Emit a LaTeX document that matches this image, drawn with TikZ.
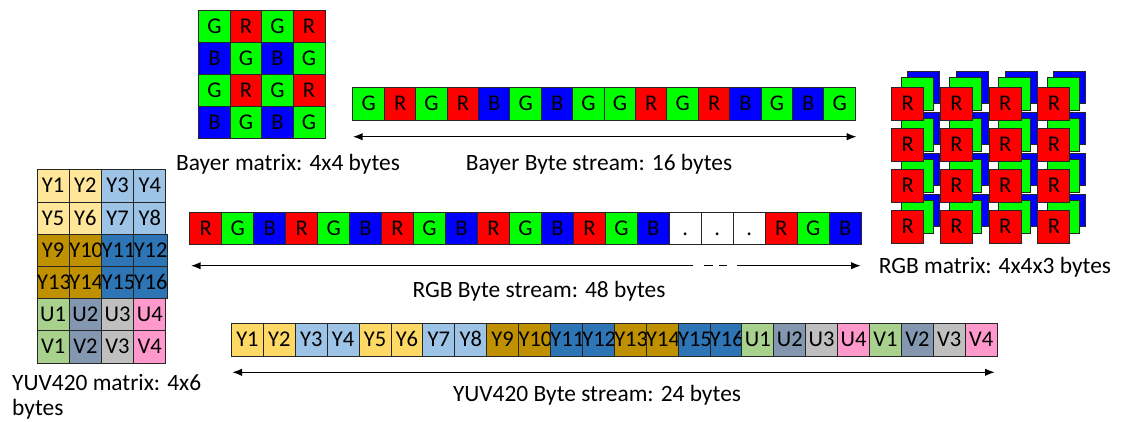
\documentclass[tikz,border=0pt]{standalone}
\usepackage{fontspec}
\setmainfont{Carlito}
\usetikzlibrary{arrows.meta}
\definecolor{bayerR}{HTML}{FF0000}
\definecolor{bayerG}{HTML}{00FF00}
\definecolor{bayerB}{HTML}{0000FF}
\definecolor{bayerW}{HTML}{FFFFFF}
\definecolor{yuvA}{HTML}{FFE699}
\definecolor{yuvAs}{HTML}{FFD966}
\definecolor{yuvB}{HTML}{9DC3E6}
\definecolor{yuvC}{HTML}{BF9000}
\definecolor{yuvD}{HTML}{2E75B6}
\definecolor{yuvE}{HTML}{A9D18E}
\definecolor{yuvF}{HTML}{8497B0}
\definecolor{yuvG}{HTML}{BFBFBF}
\definecolor{yuvH}{HTML}{FF99CC}
\def\bayerlist{G,R,G,R,B,G,B,G,G,R,G,R,B,G,B,G}
\def\yuvlist{A/Y1,A/Y2,B/Y3,B/Y4,A/Y5,A/Y6,B/Y7,B/Y8,C/Y9,C/Y10,D/Y11,D/Y12,C/Y13,C/Y14,D/Y15,D/Y16,E/U1,F/U2,G/U3,H/U4,E/V1,F/V2,G/V3,H/V4}

\tikzset{
  cell/.style={draw=black!85, line width=0.9pt, anchor=north west, minimum width=32pt, minimum height=32.3pt, inner sep=0pt, text height=14pt, text depth=0pt, font=\fontsize{22.5}{22}\selectfont},
  caption/.style={anchor=base, inner sep=0pt, font=\fontsize{23.4}{25}\selectfont},
  bytes/.style={line width=1.5pt, >={Latex[length=10pt,width=7.5pt]}}
}

\begin{document}
\begin{tikzpicture}[x=1pt,y=-1pt]
        \useasboundingbox (0,0) rectangle (1122,421);
        % Bayer matrix
        \foreach \l [count=\i from 0] in \bayerlist
            \node[cell, fill=bayer\l] (bm\i) at ({198+31.5*mod(\i,4)},{10+32*int(\i/4)}) {\l};
        \node[caption] (bmtext) at (288,170) {Bayer matrix: 4x4 bytes};
        % Bayer byte stream
        \foreach \l [count=\i from 0] in \bayerlist
            \node[cell, fill=bayer\l] (bs\i) at ({352.3+31.4*\i},87.3) {\l};
        \coordinate (bsl) at (352.7,136.7);
        \coordinate (bsr) at (856.7,136.7);
        \draw[bytes,<->] (bsl) -- (bsr);
        \node[caption] (bstext) at (599,170) {Bayer Byte stream: 16 bytes};
        % RGB matrix
        \foreach \r in {3,2,1,0}
            \foreach \c in {0,...,3} {
                \node[cell, fill=bayerB] (rmb-\r-\c) at ({907.3+48.7*\c},{71+41*\r}) {};
                \node[cell, fill=bayerG] (rmg-\r-\c) at ({900.7+48.7*\c},{77.3+41*\r}) {};
                \node[cell, fill=bayerR] (rmr-\r-\c) at ({891.3+48.7*\c},{87.3+41*\r}) {R};
            }
        \node[caption] (rmtext) at (995,273.3) {RGB matrix: 4x4x3 bytes};
        % RGB byte stream
        \foreach \c/\l [count=\i from 0] in {R/R,G/G,B/B,R/R,G/G,B/B,R/R,G/G,B/B,R/R,G/G,B/B,R/R,G/G,B/B,W/.,W/.,W/.,R/R,G/G,B/B}
            \node[cell, fill=bayer\c] (rs\i) at ({189.3+31.97*\i},211.7) {\l};
        \coordinate (rsl) at (190.7,265.7);
        \coordinate (rsa) at (693.3,265.7);
        \coordinate (rsb) at (704.3,265.7);
        \coordinate (rsc) at (726.7,265.7);
        \coordinate (rsd) at (737.3,265.7);
        \coordinate (rsr) at (861,265.7);
        \draw[bytes,<-] (rsl) -- (rsa);
        \draw[bytes,dash pattern=on 8.4pt off 6.6pt] (rsb) -- (rsc);
        \draw[bytes,->] (rsd) -- (rsr);
        \node[caption] (rstext) at (539,297) {RGB Byte stream: 48 bytes};
        % YUV420 matrix
        \foreach \c/\l [count=\i from 0] in \yuvlist
            \node[cell, fill=yuv\c] (ym\i) at ({36.7+32.2*mod(\i,4)},{169.3+32.2*int(\i/4)}) {\l};
        \node[caption, anchor=north west, align=left] (ymtext) at (12,374) {YUV420 matrix: 4x6\\bytes};
        % YUV420 byte stream
        \colorlet{yuvA}{yuvAs}
        \foreach \c/\l [count=\i from 0] in \yuvlist
            \node[cell, fill=yuv\c] (ys\i) at ({231+31.9*\i},323.3) {\l};
        \coordinate (ysl) at (232,372.3);
        \coordinate (ysr) at (995,372.3);
        \draw[bytes,<->] (ysl) -- (ysr);
        \node[caption] (ystext) at (597,401) {YUV420 Byte stream: 24 bytes};
\end{tikzpicture}
\end{document}
